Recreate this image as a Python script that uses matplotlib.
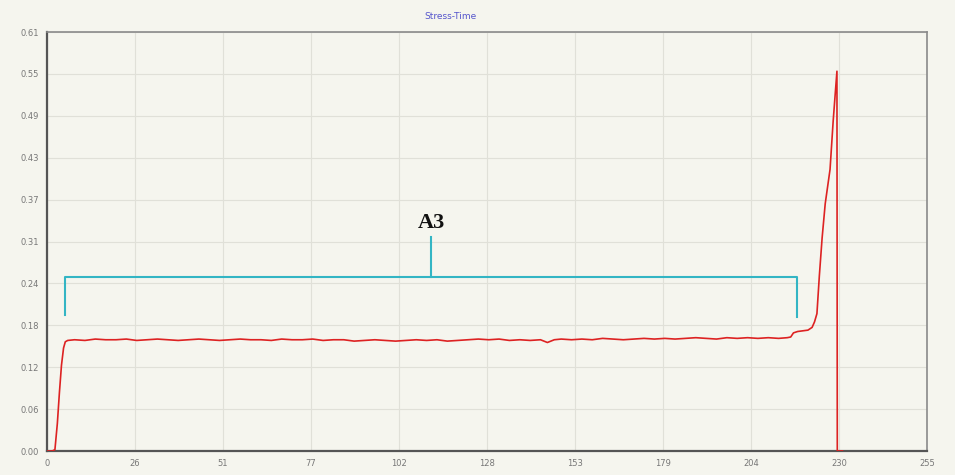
import matplotlib
matplotlib.use('Agg')
from matplotlib import pyplot as plt

# 应力-时间曲线数据
rise_t = [0.0, 1.5, 2.3, 3.0, 3.6, 4.2, 4.8, 5.3, 6.0]
rise_s = [0.000, 0.000, 0.002, 0.040, 0.085, 0.125, 0.150, 0.159, 0.161]

plateau_t = [8, 11, 14, 17, 20, 23, 26, 29, 32, 35, 38, 41, 44, 47, 50,
             53, 56, 59, 62, 65, 68, 71, 74, 77, 80, 83, 86, 89, 92, 95,
             98, 101, 104, 107, 110, 113, 116, 119, 122, 125, 128, 131, 134,
             137, 140, 143, 145, 147, 149, 152, 155, 158, 161, 164, 167, 170,
             173, 176, 179, 182, 185, 188, 191, 194, 197, 200, 203, 206, 209,
             212, 214.5]
plateau_s = [0.162, 0.161, 0.163, 0.162, 0.162, 0.163, 0.161, 0.162, 0.163,
             0.162, 0.161, 0.162, 0.163, 0.162, 0.161, 0.162, 0.163, 0.162,
             0.162, 0.161, 0.163, 0.162, 0.162, 0.163, 0.161, 0.162, 0.162,
             0.160, 0.161, 0.162, 0.161, 0.160, 0.161, 0.162, 0.161, 0.162,
             0.160, 0.161, 0.162, 0.163, 0.162, 0.163, 0.161, 0.162, 0.161,
             0.162, 0.158, 0.162, 0.163, 0.162, 0.163, 0.162, 0.164, 0.163,
             0.162, 0.163, 0.164, 0.163, 0.164, 0.163, 0.164, 0.165, 0.164,
             0.163, 0.165, 0.164, 0.165, 0.164, 0.165, 0.164, 0.165]

peak_t = [215.5, 216.3, 217.5, 219.0, 220.5, 221.7, 222.4, 223.1, 223.8,
          224.6, 225.5, 226.9, 227.8, 228.4, 228.9, 229.0, 230.5]
peak_s = [0.166, 0.172, 0.174, 0.175, 0.176, 0.180, 0.188, 0.200, 0.255,
          0.310, 0.360, 0.410, 0.480, 0.520, 0.553, 0.000, 0.000]

time = rise_t + plateau_t + peak_t
stress = rise_s + plateau_s + peak_s

x_ticks = [0, 25.5, 51, 76.5, 102, 127.5, 153, 178.5, 204, 229.5, 255]
x_labels = ['0', '26', '51', '77', '102', '128', '153', '179', '204', '230', '255']
y_ticks = [0, 0.061, 0.122, 0.183, 0.244, 0.305, 0.366, 0.427, 0.488, 0.549, 0.61]
y_labels = ['0.00', '0.06', '0.12', '0.18', '0.24', '0.31', '0.37', '0.43',
            '0.49', '0.55', '0.61']

# 标注区间 A3
a3_start, a3_end, a3_mid = 5.2, 217.3, 111.4
a3_level, a3_foot_l, a3_foot_r, a3_top = 0.254, 0.198, 0.195, 0.311

bg = '#f5f5ee'
fig = plt.figure(figsize=(9.55, 4.75), dpi=100, facecolor=bg)
ax = fig.add_axes([0.0492, 0.0505, 0.9215, 0.882], facecolor=bg)

ax.plot(time, stress, color='#dd2222', linewidth=1.2, zorder=3)

cyan = '#33b5c4'
ax.plot([a3_start, a3_start, a3_end, a3_end],
        [a3_foot_l, a3_level, a3_level, a3_foot_r], color=cyan, linewidth=1.5, zorder=2)
ax.plot([a3_mid, a3_mid], [a3_level, a3_top], color=cyan, linewidth=1.5, zorder=2)
ax.text(a3_mid, a3_top + 0.006, 'A3', ha='center', va='bottom', fontsize=16,
        fontweight='bold', family='Liberation Serif', color='#111111')

ax.set_xlim(0, 255)
ax.set_ylim(0, 0.61)
ax.set_xticks(x_ticks)
ax.set_xticklabels(x_labels)
ax.set_yticks(y_ticks)
ax.set_yticklabels(y_labels)
ax.tick_params(axis='both', length=0, labelsize=6, colors='#777777', pad=6)
ax.grid(True, color='#e0e0d8', linewidth=0.8)
ax.set_axisbelow(True)

for side in ['left', 'bottom']:
    ax.spines[side].set_color('#555555')
    ax.spines[side].set_linewidth(1.6)
for side in ['top', 'right']:
    ax.spines[side].set_color('#8a8a8a')
    ax.spines[side].set_linewidth(1.2)

fig.text(0.472, 0.965, 'Stress-Time', ha='center', va='center', fontsize=6.5,
         color='#5555cc')

fig.savefig('out.png', dpi=100, facecolor=bg)
